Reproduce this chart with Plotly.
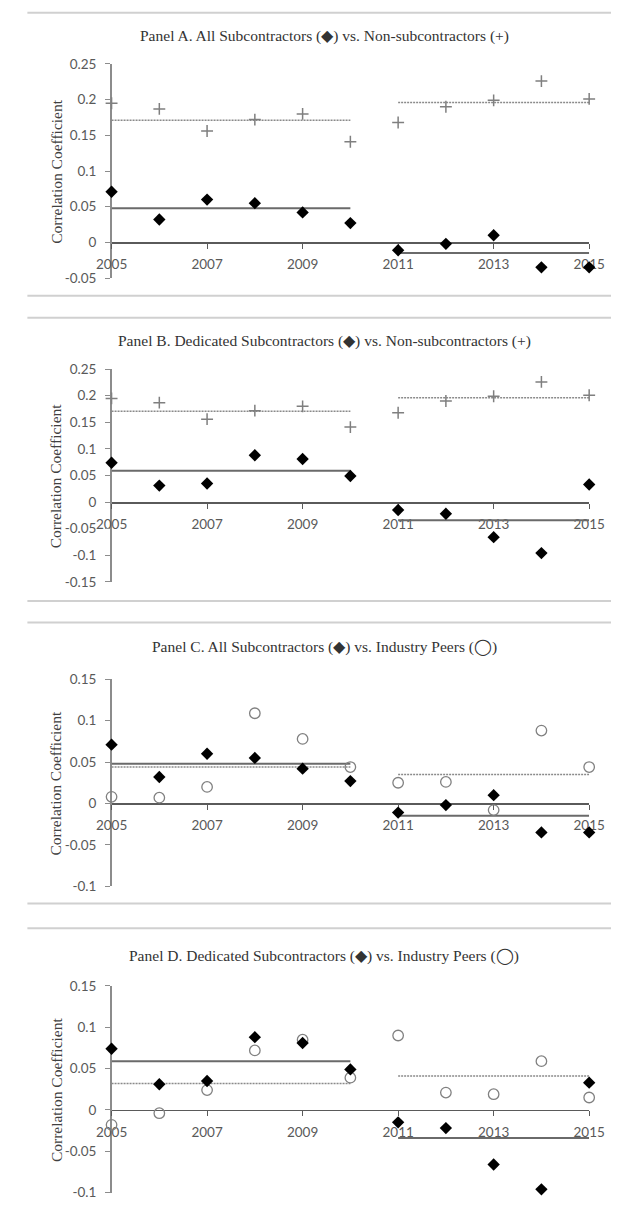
import plotly.graph_objects as go

# ---------------- data ----------------
years = [2005, 2006, 2007, 2008, 2009, 2010, 2011, 2012, 2013, 2014, 2015]

all_sub = [0.071, 0.032, 0.060, 0.055, 0.042, 0.027, -0.011, -0.002, 0.010, -0.035, -0.035]
ded_sub = [0.074, 0.031, 0.035, 0.088, 0.081, 0.049, -0.015, -0.022, -0.066, -0.096, 0.033]
non_sub = [0.195, 0.187, 0.156, 0.172, 0.180, 0.141, 0.168, 0.190, 0.199, 0.226, 0.201]
peers_all = [0.008, 0.007, 0.020, 0.109, 0.078, 0.044, 0.025, 0.026, -0.008, 0.088, 0.044]
peers_ded = [-0.018, -0.004, 0.024, 0.072, 0.085, 0.039, 0.090, 0.021, 0.019, 0.059, 0.015]

# period means (first period 2005-2010, second period 2011-2015)
periods = [[2005, 2010], [2011, 2015]]
all_sub_mean = [0.048, -0.015]
ded_sub_mean = [0.059, -0.034]
non_sub_mean = [0.171, 0.196]
peers_all_mean = [0.044, 0.035]
peers_ded_mean = [0.032, 0.041]

titles = [
    "Panel A. All Subcontractors (\u25c6) vs. Non-subcontractors (+)",
    "Panel B. Dedicated Subcontractors (\u25c6) vs. Non-subcontractors (+)",
    "Panel C. All Subcontractors (\u25c6) vs. Industry Peers (\u25ef)",
    "Panel D. Dedicated Subcontractors (\u25c6) vs. Industry Peers (\u25ef)",
]
y_title = "Correlation Coefficient"

xtick_vals = [2005, 2007, 2009, 2011, 2013, 2015]
xtick_text = ["2005", "2007", "2009", "2011", "2013", "2015"]

ytick_vals_A = [-0.05, 0, 0.05, 0.1, 0.15, 0.2, 0.25]
ytick_text_A = ["-0.05", "0", "0.05", "0.1", "0.15", "0.2", "0.25"]
ytick_vals_B = [-0.15, -0.1, -0.05, 0, 0.05, 0.1, 0.15, 0.2, 0.25]
ytick_text_B = ["-0.15", "-0.1", "-0.05", "0", "0.05", "0.1", "0.15", "0.2", "0.25"]
ytick_vals_CD = [-0.1, -0.05, 0, 0.05, 0.1, 0.15]
ytick_text_CD = ["-0.1", "-0.05", "0", "0.05", "0.1", "0.15"]

# ---------------- layout helpers ----------------
W, H = 627, 1209
X0, X1 = 100.7, 604.0

panels = [
    dict(top=56.7, bot=273.7, rng=[-0.05, 0.25], tv=ytick_vals_A, tt=ytick_text_A,
         dia=all_sub, dia_m=all_sub_mean, oth=non_sub, oth_m=non_sub_mean, kind="plus",
         title_y=28.5),
    dict(top=366.0, bot=581.5, rng=[-0.15, 0.25], tv=ytick_vals_B, tt=ytick_text_B,
         dia=ded_sub, dia_m=ded_sub_mean, oth=non_sub, oth_m=non_sub_mean, kind="plus",
         title_y=337.0),
    dict(top=680.3, bot=890.0, rng=[-0.1, 0.15], tv=ytick_vals_CD, tt=ytick_text_CD,
         dia=all_sub, dia_m=all_sub_mean, oth=peers_all, oth_m=peers_all_mean, kind="circle",
         title_y=648.0),
    dict(top=991.0, bot=1200.5, rng=[-0.1, 0.15], tv=ytick_vals_CD, tt=ytick_text_CD,
         dia=ded_sub, dia_m=ded_sub_mean, oth=peers_ded, oth_m=peers_ded_mean, kind="circle",
         title_y=961.0),
]
separators = [4.7, 291.7, 314.0, 601.0, 622.7, 907.5, 932.5]

def py(px):
    return 1 - px / H

TICK_FONT = dict(family="Lato, Liberation Sans, sans-serif", size=13.5, color="#595959")
SERIF = "Liberation Serif, Times New Roman, serif"

fig = go.Figure()
layout = dict(
    width=W, height=H, margin=dict(l=0, r=0, t=0, b=0),
    paper_bgcolor="white", plot_bgcolor="rgba(0,0,0,0)",
    showlegend=False, shapes=[], annotations=[],
)

for i, p in enumerate(panels, start=1):
    xa = "x" if i == 1 else f"x{i}"
    ya = "y" if i == 1 else f"y{i}"
    xkey = "xaxis" if i == 1 else f"xaxis{i}"
    ykey = "yaxis" if i == 1 else f"yaxis{i}"
    y0d, y1d = py(p["bot"]), py(p["top"])
    rmin, rmax = p["rng"]
    zero_pos = y0d + (0 - rmin) / (rmax - rmin) * (y1d - y0d)

    # mean lines (other group dotted, subcontractor solid)
    for per, m in zip(periods, p["oth_m"]):
        fig.add_trace(go.Scatter(x=per, y=[m, m], xaxis=xa, yaxis=ya, mode="lines",
                                 line=dict(color="#8a8a8a", width=1.5, dash="2px,1px"),
                                 hoverinfo="skip", cliponaxis=False))
    for per, m in zip(periods, p["dia_m"]):
        fig.add_trace(go.Scatter(x=per, y=[m, m], xaxis=xa, yaxis=ya, mode="lines",
                                 line=dict(color="#6a6a6a", width=2),
                                 hoverinfo="skip", cliponaxis=False))
    # other group markers
    if p["kind"] == "plus":
        mk = dict(symbol="cross-thin", size=8.5, line=dict(color="#7f7f7f", width=1.5))
    else:
        mk = dict(symbol="circle-open", size=10.5, color="#808080",
                  line=dict(color="#808080", width=1.3))
    fig.add_trace(go.Scatter(x=years, y=p["oth"], xaxis=xa, yaxis=ya, mode="markers",
                             marker=mk, cliponaxis=False))
    # subcontractor diamonds
    fig.add_trace(go.Scatter(x=years, y=p["dia"], xaxis=xa, yaxis=ya, mode="markers",
                             marker=dict(symbol="diamond", size=9.5, color="black"),
                             cliponaxis=False))

    layout[xkey] = dict(
        domain=[X0 / W, X1 / W], range=[2005, 2015], anchor="free", position=zero_pos,
        showgrid=False, zeroline=False, showline=True, linecolor="#5a5a5a", linewidth=1.5,
        ticks="outside", ticklen=5, tickwidth=1, tickcolor="#5a5a5a",
        tickvals=xtick_vals, ticktext=xtick_text, tickfont=TICK_FONT,
        ticklabelstandoff=4,
        layer="below traces", fixedrange=True,
    )
    layout[ykey] = dict(
        domain=[y0d, y1d], range=p["rng"], anchor=xa,
        showgrid=False, zeroline=False, showline=True, linecolor="#8c8c8c", linewidth=1.5,
        ticks="outside", ticklen=5, tickwidth=1, tickcolor="#8c8c8c",
        tickvals=p["tv"], ticktext=p["tt"], tickfont=TICK_FONT,
        ticklabelstandoff=6,
        layer="below traces", fixedrange=True,
    )
    layout["annotations"].append(dict(
        text=titles[i - 1], xref="paper", yref="paper", x=325 / W, y=py(p["title_y"]),
        xanchor="center", yanchor="middle", showarrow=False,
        font=dict(family=SERIF, size=15.5, color="#333333")))
    layout["annotations"].append(dict(
        text=y_title, xref="paper", yref="paper", x=42 / W, y=py((p["top"] + p["bot"]) / 2),
        xanchor="center", yanchor="middle", showarrow=False, textangle=-90,
        font=dict(family=SERIF, size=15.5, color="#404040")))

for s in separators:
    layout["shapes"].append(dict(type="line", xref="paper", yref="paper",
                                 x0=12 / W, x1=1, y0=py(s), y1=py(s),
                                 line=dict(color="#d0d0d0", width=2)))

fig.update_layout(**layout)
fig.write_html(
    "out.html",
    config={"displayModeBar": False, "staticPlot": True},
    post_script="document.body.style.margin='0';document.body.style.overflow='hidden';",
)
